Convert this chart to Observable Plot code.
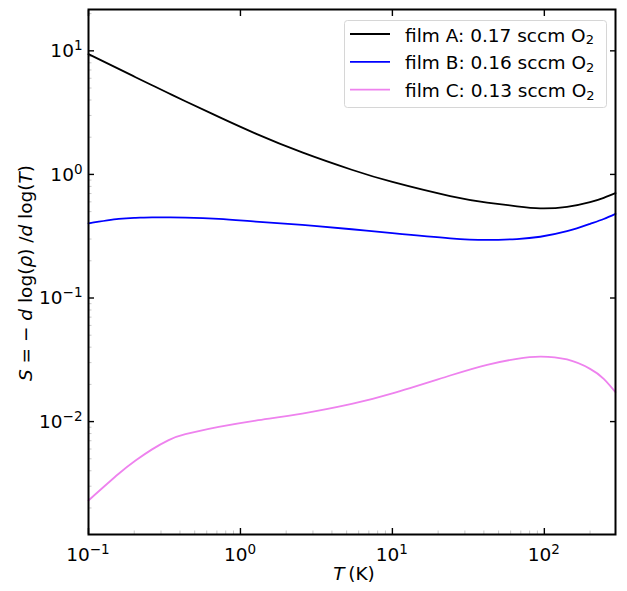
<!DOCTYPE html>
<html>
<head>
<meta charset="utf-8">
<script src="https://cdn.jsdelivr.net/npm/d3@7"></script>
<script src="https://cdn.jsdelivr.net/npm/@observablehq/plot@0.6"></script>
<style>
  body { margin: 0; background: #fff; }
  svg { display: block; }
</style>
</head>
<body>
<div id="chart"></div>
<script>
// Temperature grid (K) shared by the three films
const temperature = [0.1, 0.158, 0.204, 0.262, 0.337, 0.434, 0.72, 1.26, 2.55, 5.4, 10, 24, 42, 66, 94, 141, 200, 246, 294];

// Logarithmic derivative S = -d log(rho) / d log(T)
const filmA = [9.40, 7.14, 6.12, 5.27, 4.54, 3.91, 2.92, 2.14, 1.507, 1.091, 0.869, 0.668, 0.592, 0.552, 0.532, 0.547, 0.597, 0.647, 0.706];
const filmB = [0.402, 0.436, 0.445, 0.449, 0.449, 0.447, 0.436, 0.415, 0.390, 0.360, 0.335, 0.304, 0.295, 0.300, 0.313, 0.347, 0.398, 0.436, 0.479];
const filmC = [0.0023, 0.00378, 0.00484, 0.00596, 0.00708, 0.0079, 0.00905, 0.0102, 0.01161, 0.0139, 0.0169, 0.0236, 0.0288, 0.0322, 0.0336, 0.0318, 0.0267, 0.0222, 0.0173];

const filmNames = ["film A: 0.17 sccm O2", "film B: 0.16 sccm O2", "film C: 0.13 sccm O2"];
const filmColors = ["#000000", "#0000ff", "#ee82ee"];

// decade ticks and their exponents
const xTicks = [0.1, 1, 10, 100];
const xTickExponents = ["\u22121", "0", "1", "2"];
const yTicks = [0.01, 0.1, 1, 10];
const yTickExponents = ["\u22122", "\u22121", "0", "1"];

const xDomain = [0.1, 294];
const yDomain = [0.00122, 21.6];

// long-format table for the line mark
const series = [filmA, filmB, filmC];
const rows = series.flatMap((vals, k) =>
  temperature.map((t, i) => ({T: t, S: vals[i], film: filmNames[k]})));

// minor log ticks (2..9 × each decade) inside the domain
function minorTicks([lo, hi]) {
  const out = [];
  for (let e = Math.floor(Math.log10(lo)); e <= Math.ceil(Math.log10(hi)); e++)
    for (let m = 2; m <= 9; m++) {
      const v = m * Math.pow(10, e);
      if (v >= lo && v <= hi) out.push(v);
    }
  return out;
}

const blank = () => "";
const FONT = "DejaVu Sans";
const FS = 18.5;

const W = 627, H = 591;
const mL = 88, mR = 12, mT = 9, mB = 57;

const plot = Plot.plot({
  width: W,
  height: H,
  marginLeft: mL,
  marginRight: mR,
  marginTop: mT,
  marginBottom: mB,
  style: {fontFamily: FONT, fontSize: FS + "px", color: "#000", background: "#fff"},
  x: {type: "log", domain: xDomain, label: null},
  y: {type: "log", domain: yDomain, label: null},
  color: {domain: filmNames, range: filmColors},
  marks: [
    Plot.axisX(minorTicks(xDomain), {anchor: "bottom", tickSize: -3.5, stroke: "#c8c8c8", tickFormat: blank, label: null}),
    Plot.axisY(minorTicks(yDomain), {anchor: "left", tickSize: -3.5, stroke: "#c8c8c8", tickFormat: blank, label: null}),
    Plot.axisX(xTicks, {anchor: "bottom", tickSize: -6, strokeWidth: 1.4, tickFormat: blank, label: null}),
    Plot.axisX(xTicks, {anchor: "top", tickSize: -6, strokeWidth: 1.4, tickFormat: blank, label: null}),
    Plot.axisY(yTicks, {anchor: "left", tickSize: -6, strokeWidth: 1.4, tickFormat: blank, label: null}),
    Plot.axisY(yTicks, {anchor: "right", tickSize: -6, strokeWidth: 1.4, tickFormat: blank, label: null}),
    Plot.line(rows, {x: "T", y: "S", z: "film", stroke: "film", strokeWidth: 1.8, curve: "natural"}),
    Plot.frame({stroke: "#000", strokeWidth: 2})
  ]
});

document.getElementById("chart").appendChild(plot);

const svg = d3.select(plot);
const xs = plot.scale("x");
const ys = plot.scale("y");
const color = plot.scale("color");

// writes a run of [text, italic] pieces into a text element
function richText(sel, parts) {
  for (const [s, it] of parts) {
    const t = sel.append("tspan").text(s);
    if (it) t.attr("font-style", "italic");
  }
}

function textEl(parent, x, y, anchor) {
  return parent.append("text")
    .attr("x", x).attr("y", y)
    .attr("text-anchor", anchor)
    .attr("font-family", FONT)
    .attr("font-size", FS)
    .attr("fill", "#000");
}

// "10" with a raised exponent
function powerLabel(sel, exp) {
  sel.append("tspan").text("10");
  sel.append("tspan").attr("font-size", 13.5).attr("dy", -7).text(exp);
}

// decade tick labels, placed through the plot's own scales
const tickLabels = svg.append("g");
xTicks.forEach((v, i) => powerLabel(textEl(tickLabels, xs.apply(v), 561, "middle"), xTickExponents[i]));
yTicks.forEach((v, i) => powerLabel(textEl(tickLabels, 82.5, ys.apply(v) + 6.7, "end"), yTickExponents[i]));

// x-axis title
richText(textEl(svg, 354, 580, "middle"), [["T", true], ["\u2009(K)", false]]);

// y-axis title
const yt = svg.append("text")
  .attr("transform", `translate(32,273) rotate(-90)`)
  .attr("text-anchor", "middle")
  .attr("font-family", FONT)
  .attr("font-size", FS)
  .attr("fill", "#000");
richText(yt, [["S", true], [" = \u2212 ", false], ["d", true], [" log(", false], ["\u03c1", true],
  [") /", false], ["d", true], [" log(", false], ["T", true], [")", false]]);

// legend
const lg = svg.append("g");
lg.append("rect")
  .attr("x", 344.5).attr("y", 20.5)
  .attr("width", 262).attr("height", 87)
  .attr("rx", 3)
  .attr("fill", "#fff").attr("fill-opacity", 0.8)
  .attr("stroke", "#d6d6d6").attr("stroke-width", 1);
filmNames.forEach((name, i) => {
  const y = 34 + i * 27.8;
  lg.append("line")
    .attr("x1", 350).attr("x2", 390)
    .attr("y1", y).attr("y2", y)
    .attr("stroke", color.apply(name)).attr("stroke-width", 1.8);
  const t = textEl(lg, 405, y + 7.5, "start");
  t.append("tspan").text(name.slice(0, -1));
  t.append("tspan").attr("font-size", 13).attr("dy", 2.5).text(name.slice(-1));
});
</script>
</body>
</html>
